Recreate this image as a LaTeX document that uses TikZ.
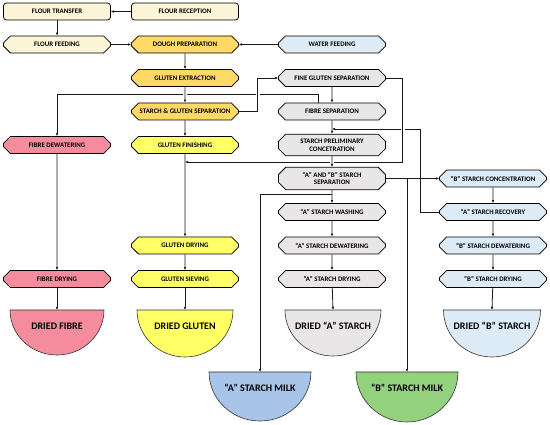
\documentclass[tikz,border=0pt]{standalone}
\usepackage{fontspec}
\setmainfont{Carlito}
\usetikzlibrary{shapes.misc,arrows.meta}

\definecolor{cream}{HTML}{FDF5D8}
\definecolor{gold}{HTML}{FFD966}
\definecolor{lemon}{HTML}{FFFF66}
\definecolor{rose}{HTML}{F58C9D}
\definecolor{paleblue}{HTML}{DDEBF7}
\definecolor{palegrey}{HTML}{E8E6E6}
\definecolor{milkblue}{HTML}{A9C4E9}
\definecolor{milkgreen}{HTML}{93D17F}

\tikzset{
	box/.style={chamfered rectangle, chamfered rectangle xsep=4pt, draw=black,
		line width=0.75pt, minimum width=107pt, minimum height=17pt, inner sep=1.5pt,
		align=center, font=\bfseries\fontsize{6.9}{7.8}\selectfont},
	rbox/.style={box, rectangle, rounded corners=3pt},
	flow/.style={line width=0.8pt, draw=black!90, -{Latex[length=3pt,width=2.6pt]}},
	bridge/.style={preaction={draw=white, line width=4pt, -, shorten <=2pt, shorten >=2pt}},
	cup/.style={draw=black!80, line width=0.6pt},
	cuptext/.style={font=\bfseries\fontsize{10}{11}\selectfont}
}

\begin{document}
\begin{tikzpicture}[x=1pt, y=-1pt]
		\useasboundingbox (0,0) rectangle (550,425);
		% process steps
		\node[rbox, fill=cream] (ftrans) at (57,11.5) {FLOUR TRANSFER};
		\node[rbox, fill=cream] (frecep) at (185,11.5) {FLOUR RECEPTION};
		\node[box, fill=cream] (ffeed) at (57,44.5) {FLOUR FEEDING};
		\node[box, fill=gold] (dough) at (185,44.5) {DOUGH PREPARATION};
		\node[box, fill=paleblue] (water) at (332,44.5) {WATER FEEDING};
		\node[box, fill=gold] (glext) at (185,78) {GLUTEN EXTRACTION};
		\node[box, fill=palegrey] (fgsep) at (332,78) {FINE GLUTEN SEPARATION};
		\node[box, fill=gold] (sgsep) at (185,111.5) {STARCH \& GLUTEN SEPARATION};
		\node[box, fill=palegrey] (fibsep) at (332,111.5) {FIBRE SEPARATION};
		\node[box, fill=rose] (fibdew) at (57,145) {FIBRE DEWATERING};
		\node[box, fill=lemon] (glfin) at (185,145) {GLUTEN FINISHING};
		\node[box, fill=palegrey, minimum height=19pt] (prelim) at (332,145) {STARCH PRELIMINARY\\CONCETRATION};
		\node[box, fill=palegrey, minimum height=19pt] (absep) at (332,178.5) {“A” AND “B” STARCH\\SEPARATION};
		\node[box, fill=paleblue] (bconc) at (493,178.5) {“B” STARCH CONCENTRATION};
		\node[box, fill=palegrey] (awash) at (332,212) {“A” STARCH WASHING};
		\node[box, fill=paleblue] (arecov) at (493,212) {“A” STARCH RECOVERY};
		\node[box, fill=lemon] (gldry) at (185,245.5) {GLUTEN DRYING};
		\node[box, fill=palegrey] (adew) at (332,245.5) {“A” STARCH DEWATERING};
		\node[box, fill=paleblue] (bdew) at (493,245.5) {“B” STARCH DEWATERING};
		\node[box, fill=rose] (fibdry) at (57,279) {FIBRE DRYING};
		\node[box, fill=lemon] (glsiev) at (185,279) {GLUTEN SIEVING};
		\node[box, fill=palegrey] (adry) at (332,279) {“A” STARCH DRYING};
		\node[box, fill=paleblue] (bdry) at (493,279) {“B” STARCH DRYING};

		% products
		\coordinate (dfibre) at (57,310);
		\coordinate (dgluten) at (185,310);
		\coordinate (dastarch) at (333,310);
		\coordinate (dbstarch) at (492,310);
		\coordinate (amilk) at (260,372);
		\coordinate (bmilk) at (407,372);
		\draw[cup, fill=rose] ([xshift=-47pt]dfibre) -- ([xshift=47pt]dfibre)
			arc[start angle=0, end angle=-180, x radius=47pt, y radius=45pt] -- cycle;
		\draw[cup, fill=lemon] ([xshift=-48pt]dgluten) -- ([xshift=48pt]dgluten)
			arc[start angle=0, end angle=-180, x radius=48pt, y radius=47pt] -- cycle;
		\draw[cup, fill=palegrey] ([xshift=-48pt]dastarch) -- ([xshift=48pt]dastarch)
			arc[start angle=0, end angle=-180, x radius=48pt, y radius=46pt] -- cycle;
		\draw[cup, fill=paleblue] ([xshift=-48.5pt]dbstarch) -- ([xshift=48.5pt]dbstarch)
			arc[start angle=0, end angle=-180, x radius=48.5pt, y radius=47pt] -- cycle;
		\draw[cup, fill=milkblue] ([xshift=-51pt]amilk) -- ([xshift=51pt]amilk)
			arc[start angle=0, end angle=-180, x radius=51pt, y radius=49pt] -- cycle;
		\draw[cup, fill=milkgreen] ([xshift=-51pt]bmilk) -- ([xshift=51pt]bmilk)
			arc[start angle=0, end angle=-180, x radius=51pt, y radius=50pt] -- cycle;
		\node[cuptext] (dfibretxt) at ([yshift=-16pt]dfibre) {DRIED FIBRE};
		\node[cuptext] (dglutentxt) at ([yshift=-16pt]dgluten) {DRIED GLUTEN};
		\node[cuptext] (dastarchtxt) at ([yshift=-16pt]dastarch) {DRIED “A” STARCH};
		\node[cuptext] (dbstarchtxt) at ([yshift=-16pt]dbstarch) {DRIED “B” STARCH};
		\node[cuptext] (amilktxt) at ([yshift=-16pt]amilk) {“A” STARCH MILK};
		\node[cuptext] (bmilktxt) at ([yshift=-16pt]bmilk) {“B” STARCH MILK};

		% rows of the long bends
		\coordinate (rowfib) at (0,94);
		\coordinate (rowrec) at (0,129);
		\coordinate (rowfg) at (0,162);
		\coordinate (rowam) at (0,194.5);

		% straight flows
		\draw[flow] (frecep) -- (ftrans);
		\draw[flow] (ftrans) -- (ffeed);
		\draw[flow] (ffeed) -- (dough);
		\draw[flow] (water) -- (dough);
		\draw[flow] (dough) -- (glext);
		\draw[flow] (fgsep) -- (fibsep);
		\draw[flow] (fibsep) -- (prelim);
		\draw[flow] (sgsep) -- (glfin);
		\draw[flow] (glfin) -- (gldry);
		\draw[flow] (gldry) -- (glsiev);
		\draw[flow] (glsiev) -- (dgluten);
		\draw[flow] (fibdew) -- (fibdry);
		\draw[flow] (fibdry) -- (dfibre);
		\draw[flow] (absep) -- (awash);
		\draw[flow] (awash) -- (adew);
		\draw[flow] (adew) -- (adry);
		\draw[flow] (adry) -- (dastarch);
		\draw[flow] (absep) -- (bconc);
		\draw[flow] (bconc) -- (arecov);
		\draw[flow] (arecov) -- (bdew);
		\draw[flow] (bdew) -- (bdry);
		\draw[flow] (bdry) -- (dbstarch);
		\draw[flow] (absep.east -| bmilk) -- (bmilk);
		\draw[flow] (rowam -| absep.south) -| (amilk);

		% bends (later ones cut gaps in earlier ones)
		\draw[flow] ([xshift=-14pt]fibsep.north) |- (rowfib -| fibdew.north) -- (fibdew.north);
		\draw[flow] (arecov.west) -- ++(-19,0) |- (rowrec -| prelim.north);
		\draw[flow, bridge] (fgsep.east) -- ++(17,0) |- (rowfg -| glfin.south);
		\draw[flow, bridge] (prelim) -- (absep);
		\draw[flow, bridge] (glext) -- (sgsep);
		\draw[flow, bridge] (sgsep.east) -- ++(19,0) |- (fgsep.west);
	\end{tikzpicture}
\end{document}
